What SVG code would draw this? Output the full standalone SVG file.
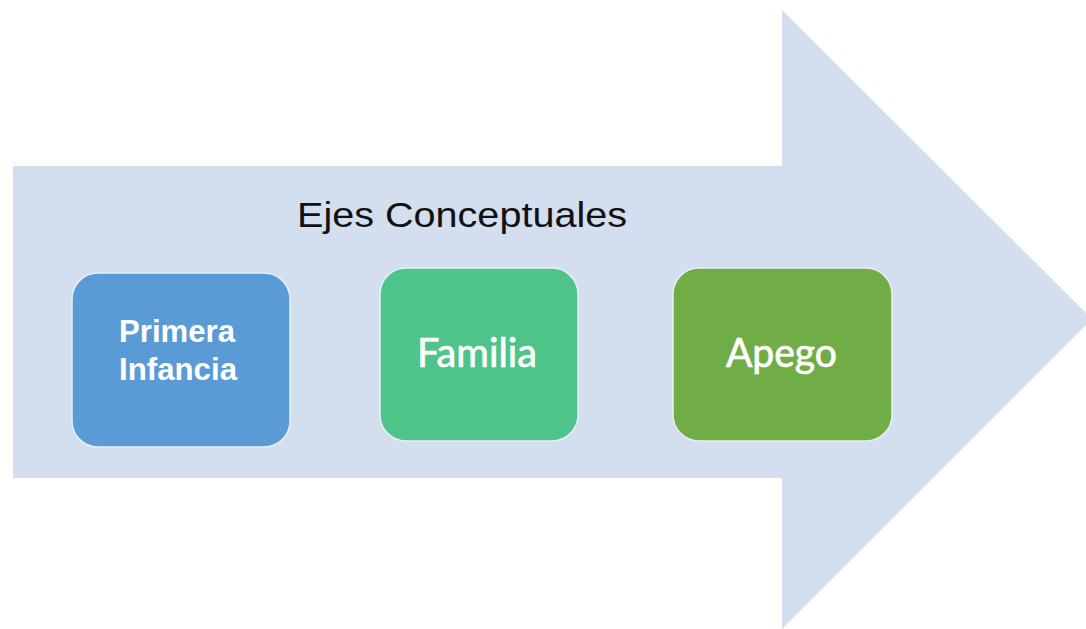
<svg xmlns="http://www.w3.org/2000/svg" width="1086" height="629" viewBox="0 0 1086 629">
<style>
.bg{fill:#ffffff}
.arrow{fill:#D3DEEF}
.box{stroke:#E8EEF7;stroke-width:1.5}
.t-bold{font-family:"Liberation Sans",Arial,sans-serif;font-weight:bold;font-size:32px;fill:#ffffff}
.t-cal{font-family:Lato,"Open Sans",sans-serif;font-size:40px;fill:#ffffff;stroke:#ffffff;stroke-width:0.7}
.title{font-family:"Liberation Sans",Arial,sans-serif;font-size:35px;fill:#111111}
</style>
<rect class="bg" x="0" y="0" width="1086" height="629"/>
<g id="arrow">
<polygon class="arrow" points="13,166 782,166 782,10 1092,319 782,629 782,478 13,478"/>
</g>
<g id="title">
<text class="title" x="297" y="227" textLength="330" lengthAdjust="spacingAndGlyphs">Ejes Conceptuales</text>
</g>
<g id="node-primera-infancia">
<rect class="box" x="72" y="273" width="218" height="174" rx="26" fill="#5B9BD5"/>
<text class="t-bold" x="119" y="342" textLength="116" lengthAdjust="spacingAndGlyphs">Primera</text>
<text class="t-bold" x="119" y="380" textLength="118" lengthAdjust="spacingAndGlyphs">Infancia</text>
</g>
<g id="node-familia">
<rect class="box" x="380" y="268" width="198" height="173" rx="26" fill="#4EC48A"/>
<text class="t-cal" x="417" y="367" textLength="120" lengthAdjust="spacingAndGlyphs">Familia</text>
</g>
<g id="node-apego">
<rect class="box" x="673" y="268" width="219" height="173" rx="26" fill="#70AD47"/>
<text class="t-cal" x="726" y="367" textLength="111" lengthAdjust="spacingAndGlyphs">Apego</text>
</g>
<g id="connectors"></g>
</svg>
